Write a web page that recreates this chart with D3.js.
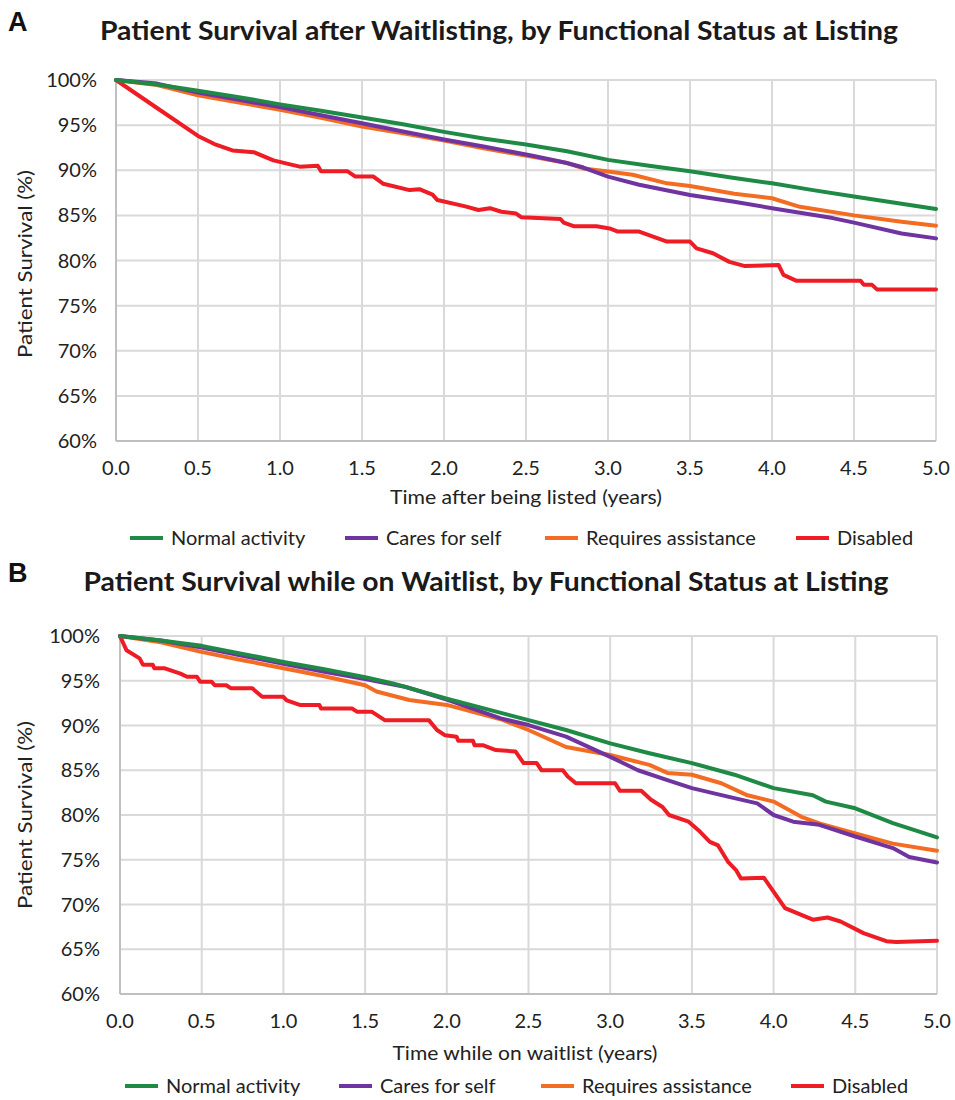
<!DOCTYPE html>
<html>
<head>
<meta charset="utf-8">
<script src="https://cdn.jsdelivr.net/npm/d3@7"></script>
<style>
  body { margin: 0; background: #fff; }
  text { font-family: Lato, "Open Sans", sans-serif; fill: #222; }
</style>
</head>
<body>
<svg id="chart" width="955" height="1100"></svg>
<script>
// Tick labels and series names.
const yearTicks = [0, 0.5, 1, 1.5, 2, 2.5, 3, 3.5, 4, 4.5, 5];
const pctTicks = [60, 65, 70, 75, 80, 85, 90, 95, 100];
const seriesNames = ["Normal activity", "Cares for self", "Requires assistance", "Disabled"];
const seriesColors = ["#1e8a45", "#7034a0", "#f36c21", "#ee1c25"];

// Panel A: survival after waitlisting, [years, %].
const normalA = [[0,100],[0.25,99.5],[0.5,98.8],[0.75,98.1],[1,97.3],[1.25,96.6],[1.5,95.85],[1.75,95.1],[2,94.25],[2.25,93.5],[2.5,92.85],[2.75,92.1],[3,91.15],[3.25,90.5],[3.5,89.9],[3.75,89.2],[4,88.55],[4.25,87.8],[4.5,87.1],[4.75,86.4],[5,85.7]];
const caresA = [[0,100],[0.25,99.6],[0.5,98.6],[0.75,97.8],[1,97.0],[1.25,96.1],[1.5,95.2],[1.75,94.3],[2,93.4],[2.25,92.6],[2.54,91.6],[2.75,90.8],[2.85,90.3],[3,89.3],[3.19,88.4],[3.5,87.25],[3.77,86.5],[4,85.8],[4.37,84.7],[4.5,84.2],[4.79,83.0],[5,82.45]];
const assistA = [[0,100],[0.25,99.45],[0.5,98.3],[0.75,97.5],[1,96.7],[1.25,95.8],[1.5,94.85],[1.75,94.1],[2,93.3],[2.25,92.4],[2.54,91.5],[2.75,90.8],[2.85,90.2],[3,89.85],[3.15,89.5],[3.36,88.55],[3.5,88.25],[3.77,87.4],[4,86.9],[4.17,85.95],[4.5,85.0],[4.79,84.3],[5,83.85]];
const disabledA = [[0,100],[0.25,96.9],[0.5,93.8],[0.6,92.9],[0.71,92.2],[0.84,92.0],[0.96,91.1],[1.12,90.4],[1.23,90.5],[1.25,89.9],[1.41,89.9],[1.46,89.3],[1.57,89.3],[1.63,88.5],[1.79,87.8],[1.85,87.9],[1.93,87.3],[1.96,86.7],[2.13,86.0],[2.21,85.6],[2.28,85.8],[2.35,85.4],[2.44,85.2],[2.47,84.8],[2.71,84.6],[2.73,84.2],[2.79,83.8],[2.93,83.8],[3.01,83.55],[3.06,83.2],[3.19,83.2],[3.36,82.1],[3.5,82.1],[3.54,81.35],[3.64,80.8],[3.74,79.85],[3.83,79.4],[4.04,79.5],[4.07,78.4],[4.15,77.75],[4.54,77.75],[4.56,77.3],[4.61,77.3],[4.64,76.8],[5,76.8]];

// Panel B: survival while on waitlist, [years, %].
const normalB = [[0,100],[0.25,99.5],[0.5,98.9],[0.75,98.0],[1,97.1],[1.25,96.3],[1.5,95.4],[1.67,94.7],[2,93.0],[2.25,91.8],[2.5,90.6],[2.73,89.5],[3,88.0],[3.24,86.9],[3.5,85.8],[3.76,84.5],[4,83.0],[4.24,82.2],[4.32,81.5],[4.5,80.75],[4.73,79.1],[5,77.5]];
const caresB = [[0,100],[0.25,99.5],[0.5,98.7],[0.75,97.8],[1,96.9],[1.25,96.0],[1.5,95.2],[1.75,94.3],[2,92.9],[2.33,90.8],[2.5,90.05],[2.73,88.75],[3,86.5],[3.17,85.0],[3.35,83.9],[3.5,83.0],[3.72,82.05],[3.9,81.3],[4,80.0],[4.12,79.25],[4.28,78.9],[4.5,77.6],[4.73,76.3],[4.83,75.3],[5,74.7]];
const assistB = [[0,100],[0.25,99.3],[0.49,98.25],[0.75,97.3],[1,96.4],[1.25,95.5],[1.5,94.5],[1.57,93.8],[1.77,92.85],[2,92.3],[2.33,90.7],[2.5,89.5],[2.73,87.6],[3,86.7],[3.24,85.6],[3.35,84.7],[3.5,84.5],[3.68,83.55],[3.84,82.2],[4,81.5],[4.17,79.8],[4.28,79.07],[4.5,77.95],[4.73,76.8],[5,76.0]];
const disabledB = [[0,100],[0.04,98.4],[0.12,97.5],[0.14,96.8],[0.2,96.8],[0.21,96.4],[0.27,96.4],[0.37,95.8],[0.41,95.45],[0.47,95.45],[0.49,94.9],[0.56,94.9],[0.58,94.5],[0.65,94.5],[0.68,94.15],[0.81,94.15],[0.87,93.2],[1,93.2],[1.02,92.8],[1.1,92.3],[1.22,92.3],[1.23,91.9],[1.42,91.9],[1.45,91.55],[1.54,91.55],[1.62,90.6],[1.89,90.6],[1.94,89.5],[1.99,88.9],[2.06,88.75],[2.07,88.3],[2.16,88.3],[2.17,87.8],[2.22,87.8],[2.3,87.26],[2.42,87.1],[2.47,85.8],[2.55,85.8],[2.58,85.0],[2.71,85.0],[2.74,84.3],[2.79,83.55],[3.03,83.55],[3.06,82.7],[3.19,82.7],[3.25,81.7],[3.32,80.9],[3.36,80.0],[3.48,79.25],[3.54,78.3],[3.61,77.0],[3.66,76.6],[3.72,74.8],[3.77,73.85],[3.8,72.9],[3.94,73.0],[4.07,69.6],[4.24,68.3],[4.33,68.55],[4.41,68.1],[4.55,66.8],[4.69,65.9],[4.75,65.8],[5,65.95]];

const svg = d3.select("#chart");

// Draw one panel.
function drawPanel(opt) {
  let x = d3.scaleLinear().domain([0, 5]).range([opt.left, opt.right]),
    y = d3.scaleLinear().domain([60, 100]).range([opt.bottom, opt.top]);

  let g = svg.append("g");

  // Panel letter and title.
  g.append("text").attr("x", 8).attr("y", opt.letterY)
    .style("font-family", "Arial, 'Liberation Sans', sans-serif")
    .style("font-weight", "bold").style("font-size", "27px").style("fill", "#111")
    .text(opt.letter);
  g.append("text").attr("x", opt.titleX).attr("y", opt.titleY)
    .attr("text-anchor", "middle")
    .attr("textLength", opt.titleW).attr("lengthAdjust", "spacingAndGlyphs")
    .style("font-weight", "bold").style("font-size", "26px").style("fill", "#1a1a1a")
    .text(opt.title);

  // Gridlines.
  g.append("g").selectAll("line").data(pctTicks).enter().append("line")
    .attr("x1", opt.left).attr("x2", opt.right)
    .attr("y1", (d) => y(d)).attr("y2", (d) => y(d))
    .attr("stroke", "#d9d9d9").attr("stroke-width", 2);
  g.append("g").selectAll("line").data(yearTicks).enter().append("line")
    .attr("x1", (d) => x(d)).attr("x2", (d) => x(d))
    .attr("y1", opt.top).attr("y2", opt.bottom)
    .attr("stroke", "#d9d9d9").attr("stroke-width", 2);

  // Axes lines.
  g.append("line").attr("x1", opt.left).attr("x2", opt.left)
    .attr("y1", opt.top).attr("y2", opt.bottom)
    .attr("stroke", "#bfbfbf").attr("stroke-width", 2);
  g.append("line").attr("x1", opt.left).attr("x2", opt.right)
    .attr("y1", opt.bottom).attr("y2", opt.bottom)
    .attr("stroke", "#bfbfbf").attr("stroke-width", 2);

  // Tick labels.
  g.append("g").selectAll("text").data(pctTicks).enter().append("text")
    .attr("x", opt.left - opt.tickGap).attr("y", (d) => y(d)).attr("dy", "0.35em")
    .attr("text-anchor", "end").style("font-size", "20px")
    .text((d) => d + "%");
  g.append("g").selectAll("text").data(yearTicks).enter().append("text")
    .attr("x", (d) => x(d)).attr("y", opt.bottom + 27).attr("dy", "0.35em")
    .attr("text-anchor", "middle").style("font-size", "20px")
    .text((d) => d.toFixed(1));

  // Axis titles.
  g.append("text").attr("x", opt.xTitleX).attr("y", opt.xTitleY)
    .attr("dy", "0.35em").attr("text-anchor", "middle").style("font-size", "20px")
    .attr("textLength", opt.xTitleW).attr("lengthAdjust", "spacingAndGlyphs")
    .text(opt.xTitle);
  g.append("text")
    .attr("transform", `translate(${25},${opt.yTitleY}) rotate(-90)`)
    .attr("dy", "0.35em").attr("text-anchor", "middle").style("font-size", "20px")
    .attr("textLength", 188).attr("lengthAdjust", "spacingAndGlyphs")
    .text("Patient Survival (%)");

  // Survival curves, disabled first so normal activity sits on top.
  let line = d3.line().x((d) => x(d[0])).y((d) => y(d[1]));
  for (let i = opt.series.length - 1; i >= 0; i--) {
    g.append("path").datum(opt.series[i])
      .attr("d", line).attr("fill", "none")
      .attr("stroke", seriesColors[i]).attr("stroke-width", 4)
      .attr("stroke-linejoin", "round").attr("stroke-linecap", "round");
  }

  // Legend.
  let leg = g.append("g").selectAll("g").data(seriesNames).enter().append("g")
    .attr("transform", (d, i) => `translate(${opt.legendX[i]},${opt.legendY})`);
  leg.append("line").attr("x1", 0).attr("x2", 33)
    .attr("stroke", (d, i) => seriesColors[i]).attr("stroke-width", 4);
  leg.append("text").attr("x", 41).attr("dy", "0.35em").style("font-size", "20px")
    .text((d) => d);
}

drawPanel({
  letter: "A", letterY: 31,
  title: "Patient Survival after Waitlisting, by Functional Status at Listing",
  titleX: 499, titleY: 40, titleW: 798,
  left: 116, right: 936, top: 80, bottom: 441, tickGap: 19,
  xTitle: "Time after being listed (years)", xTitleX: 526, xTitleY: 497, xTitleW: 272,
  yTitleY: 264,
  series: [normalA, caresA, assistA, disabledA],
  legendX: [130, 345, 545, 796], legendY: 538,
});

drawPanel({
  letter: "B", letterY: 582,
  title: "Patient Survival while on Waitlist, by Functional Status at Listing",
  titleX: 486, titleY: 591, titleW: 805,
  left: 120, right: 937, top: 636, bottom: 994, tickGap: 20,
  xTitle: "Time while on waitlist (years)", xTitleX: 525, xTitleY: 1053, xTitleW: 265,
  yTitleY: 815,
  series: [normalB, caresB, assistB, disabledB],
  legendX: [125, 339, 541, 791], legendY: 1086,
});
</script>
</body>
</html>
